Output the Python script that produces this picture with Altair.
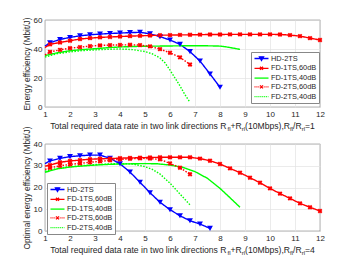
import altair as alt
import pandas as pd

SERIES = ["HD-2TS", "FD-1TS,60dB", "FD-1TS,40dB", "FD-2TS,60dB", "FD-2TS,40dB"]
COLORS = ["#0000ff", "#ff0000", "#00ff00", "#ff0000", "#00ff00"]
DASHES = [[1, 0], [1, 0], [1, 0], [1.5, 1.5], [1.5, 1.5]]
MARKER = ["tri", "x", None, "x", None]

X_M4 = [1.0, 1.2, 1.6, 2.0, 2.4, 2.8, 3.2, 3.6, 4.0, 4.4, 4.8, 5.2, 5.6, 6.0, 6.4, 6.8]
X_HD_TOP = X_M4 + [7.2, 7.6, 8.0]
X_HD_BOT = X_M4 + [7.2, 7.6]
X_FULL = X_M4 + [7.2, 7.6, 8.0, 8.4, 8.8, 9.2, 9.6, 10.0, 10.4, 10.8, 11.2, 11.6, 12.0]

# ---- top panel (R_fl/R_rl = 1) ----
HD_TOP = [42.0, 44.3, 46.6, 48.0, 49.1, 49.8, 50.3, 50.7, 51.0, 51.3, 51.5, 50.5, 48.5,
          46.2, 43.2, 38.2, 31.7, 22.8, 13.6]
FD1_60_TOP = [41.0, 43.2, 44.5, 45.7, 46.9, 47.5, 48.0, 48.3, 48.6, 48.9, 49.1, 49.3, 49.5,
              49.6, 49.7, 49.8, 49.9, 50.0, 50.0, 50.1, 50.1, 50.1, 50.1, 50.1, 50.0, 49.6,
              48.9, 47.5, 46.2]
X_FD1_40_TOP = [1.0, 1.5, 2.0, 2.5, 3.0, 3.5, 4.0, 4.5, 5.0, 5.5, 6.0, 6.5, 7.0, 7.5, 8.0,
                8.2, 8.4, 8.6, 8.8]
FD1_40_TOP = [35.5, 37.4, 38.8, 39.6, 40.2, 40.9, 41.4, 41.7, 41.9, 42.0, 42.1, 42.2, 42.2,
              42.2, 42.0, 41.6, 41.0, 40.4, 39.7]
FD2_60_TOP = [36.0, 38.0, 39.4, 40.6, 41.3, 42.0, 42.5, 42.7, 42.8, 42.9, 42.7, 41.8, 39.9,
              37.4, 34.2, 29.3]
X_FD2_40_TOP = [1.0, 1.5, 2.0, 2.5, 3.0, 3.5, 4.0, 4.5, 5.0, 5.3, 5.6, 5.8, 6.0, 6.2, 6.4,
                6.6, 6.8]
FD2_40_TOP = [34.5, 36.8, 38.0, 38.9, 39.4, 39.8, 40.0, 39.6, 38.2, 36.6, 33.8, 30.5, 25.5,
              20.0, 14.5, 8.5, 3.2]

# ---- bottom panel (R_fl/R_rl = 4) ----
HD_BOT = [31.0, 32.2, 33.4, 34.2, 34.6, 34.9, 34.9, 33.4, 30.9, 27.1, 22.4, 17.6, 13.2,
          9.8, 7.0, 4.7, 3.2, 1.2]
FD1_60_BOT = [29.8, 30.3, 31.6, 32.2, 32.6, 33.0, 33.2, 33.3, 33.5, 33.6, 33.7, 33.8, 33.9,
              33.9, 33.9, 33.9, 33.3, 32.3, 30.8, 28.8, 26.8, 24.5, 22.2, 19.6, 17.2, 15.0,
              12.7, 10.9, 9.2]
X_FD1_40_BOT = [1.0, 1.5, 2.0, 2.5, 3.0, 3.5, 4.0, 4.5, 5.0, 5.5, 6.0, 6.5, 7.0, 7.5, 8.0,
                8.4, 8.8]
FD1_40_BOT = [27.0, 28.6, 29.4, 29.9, 30.3, 30.6, 30.8, 30.9, 31.0, 30.9, 30.3, 29.3, 27.3,
              24.2, 19.6, 15.3, 10.9]
FD2_60_BOT = [28.3, 29.0, 30.0, 30.6, 31.1, 31.6, 32.0, 32.5, 32.9, 33.2, 33.4, 33.3, 32.9,
              31.1, 29.1, 26.1]
X_FD2_40_BOT = [1.0, 1.5, 2.0, 2.5, 3.0, 3.5, 4.0, 4.5, 5.0, 5.3, 5.6, 6.0, 6.4, 6.8]
FD2_40_BOT = [27.5, 28.8, 29.6, 30.1, 30.5, 30.8, 31.0, 30.8, 29.6, 28.3, 26.2, 22.0, 17.0,
              12.0]

X_TICKS = list(range(1, 13))
Y_TICKS_TOP = [0, 20, 40, 60]
Y_TICKS_BOT = [0, 10, 20, 30, 40]

LEGEND_PATHS = [
    "M-1.87,0H1.87M-0.55,-0.46H0.55L0,0.5Z",
    "M-1.87,0H1.87M-0.4,-0.4L0.4,0.4M-0.4,0.4L0.4,-0.4",
    "M-1.87,0H1.87",
    "M-1.87,0H-1.6M-1.35,0H-1.08M-0.83,0H-0.6M0.6,0H0.83M1.08,0H1.35M1.6,0H1.87"
    "M-0.4,-0.4L0.4,0.4M-0.4,0.4L0.4,-0.4",
    "M-1.87,0H-1.6M-1.35,0H-1.08M-0.83,0H-0.56M-0.31,0H-0.04M0.21,0H0.48M0.73,0H1.0"
    "M1.25,0H1.52M1.77,0H1.87",
]

W, H = 275, 87
FONT = "Liberation Sans"
TXT = "#262626"

ARIAL = {' ': 278, 'T': 611, 'o': 556, 't': 278, 'a': 556, 'l': 222, 'r': 333, 'e': 556,
         'q': 556, 'u': 556, 'i': 222, 'd': 556, 'n': 556, 'w': 722, 'k': 500, 'c': 500,
         's': 500, 'R': 722, 'f': 278, '+': 584, '(': 333, ')': 333, '1': 556, '0': 556,
         '4': 556, 'M': 833, 'b': 556, 'p': 556, ',': 278, '/': 278, '=': 584}


def twidth(s, fs):
    return sum(ARIAL.get(c, 556) for c in s) / 1000.0 * fs


def build_df(sets):
    rows = []
    for name, xs, ys in sets:
        i = SERIES.index(name)
        for k, (x, y) in enumerate(zip(xs, ys)):
            rows.append({"series": name, "x": x, "y": y, "ord": k,
                         "mk": MARKER[i] if (MARKER[i] and k > 0) else "none"})
    return pd.DataFrame(rows)


def title_layers(ratio):
    MF, SF = 8.6, 6.0
    pieces = [("Total required data rate in two link directions R", False), ("fl", True),
              ("+R", False), ("rl", True), ("(10Mbps),R", False), ("fl", True),
              ("/R", False), ("rl", True), ("=" + ratio, False)]
    total = sum(twidth(t, SF if s else MF) for t, s in pieces)
    x0 = W / 2 - total / 2
    layers = []
    one = pd.DataFrame({"a": [0]})
    for t, s in pieces:
        fs = SF if s else MF
        layers.append(
            alt.Chart(one).mark_text(align="left", baseline="alphabetic", font=FONT,
                                     fontSize=fs, color=TXT)
            .encode(x=alt.value(x0), y=alt.value(H + (23.5 if s else 21.5)),
                    text=alt.value(t)))
        x0 += twidth(t, fs)
    return layers


def panel(df, ytitle, yticks, ymax, lx, ly, ratio):
    xs = alt.Scale(domain=[1, 12], nice=False, zero=False)
    ys = alt.Scale(domain=[0, ymax], nice=False)
    xax = alt.Axis(values=X_TICKS, tickCount=len(X_TICKS), title=None, format="d",
                   labelOverlap=False, labelFlush=False)
    yax = alt.Axis(values=yticks, tickCount=len(yticks), title=ytitle, format="d",
                   labelOverlap=False, labelFlush=False)
    cscale = alt.Scale(domain=SERIES, range=COLORS)
    base = alt.Chart(df)
    lines = base.mark_line(strokeWidth=1.4).encode(
        x=alt.X("x:Q", scale=xs, axis=xax),
        y=alt.Y("y:Q", scale=ys, axis=yax),
        color=alt.Color("series:N", scale=cscale, legend=None),
        strokeDash=alt.StrokeDash("series:N", scale=alt.Scale(domain=SERIES, range=DASHES),
                                  legend=None),
        detail="series:N",
        order="ord:Q",
    )
    tri = base.transform_filter(alt.datum.mk == "tri").mark_point(
        shape="triangle-down", filled=True, size=34, opacity=1).encode(
        x="x:Q", y="y:Q", color=alt.Color("series:N", scale=cscale, legend=None))
    xm = base.transform_filter(alt.datum.mk == "x").mark_point(
        shape="cross", angle=45, filled=True, size=24, opacity=1).encode(
        x="x:Q", y="y:Q", color=alt.Color("series:N", scale=cscale, legend=None))
    leg = alt.Legend(title=None, orient="none", legendX=lx, legendY=ly,
                     labelFont=FONT, labelFontSize=7.4, labelColor=TXT,
                     symbolSize=56, symbolStrokeWidth=1.3, symbolOpacity=1,
                     labelOffset=5, symbolOffset=4, rowPadding=0.8,
                     strokeColor="#888888", fillColor="white", padding=2,
                     labelLimit=200)
    dummy = base.mark_point(opacity=0, filled=True).encode(
        x="x:Q", y="y:Q",
        fill=alt.Fill("series:N", scale=alt.Scale(domain=SERIES, range=COLORS), legend=leg,
                      sort=SERIES),
        stroke=alt.Stroke("series:N", scale=alt.Scale(domain=SERIES, range=COLORS),
                          legend=leg, sort=SERIES),
        shape=alt.Shape("series:N", scale=alt.Scale(domain=SERIES, range=LEGEND_PATHS),
                        legend=leg, sort=SERIES),
    )
    return alt.layer(lines, tri, xm, dummy, *title_layers(ratio)).properties(
        width=W, height=H)


top_df = build_df([
    ("HD-2TS", X_HD_TOP, HD_TOP),
    ("FD-1TS,60dB", X_FULL, FD1_60_TOP),
    ("FD-1TS,40dB", X_FD1_40_TOP, FD1_40_TOP),
    ("FD-2TS,60dB", X_M4, FD2_60_TOP),
    ("FD-2TS,40dB", X_FD2_40_TOP, FD2_40_TOP),
])
bot_df = build_df([
    ("HD-2TS", X_HD_BOT, HD_BOT),
    ("FD-1TS,60dB", X_FULL, FD1_60_BOT),
    ("FD-1TS,40dB", X_FD1_40_BOT, FD1_40_BOT),
    ("FD-2TS,60dB", X_M4, FD2_60_BOT),
    ("FD-2TS,40dB", X_FD2_40_BOT, FD2_40_BOT),
])

top = panel(top_df, "Energy efficiency (Mbit/J)", Y_TICKS_TOP, 60, 206, 32, "1")
bot = panel(bot_df, "Optimal energy efficiency (Mbit/J)", Y_TICKS_BOT, 40, 2, 39, "4")

chart = alt.vconcat(top, bot, spacing=37, bounds="flush").resolve_scale(
    fill="independent", stroke="independent", shape="independent"
).resolve_legend(
    fill="independent", stroke="independent", shape="independent"
).properties(
    padding={"left": 13, "top": 7, "right": 4, "bottom": 0},
    background="white",
).configure_view(
    stroke="#555555", strokeWidth=0.7
).configure_axis(
    labelFont=FONT, labelFontSize=8, labelColor=TXT, titleFont=FONT, titleFontSize=8.3,
    titleColor=TXT, titleFontWeight="normal", ticks=False, labelPadding=3, titlePadding=2,
    domain=False, gridColor="#e3e3e3", gridWidth=0.7, labelOverlap=False
)

chart.save("out.html", embed_options={"renderer": "svg", "actions": False})
